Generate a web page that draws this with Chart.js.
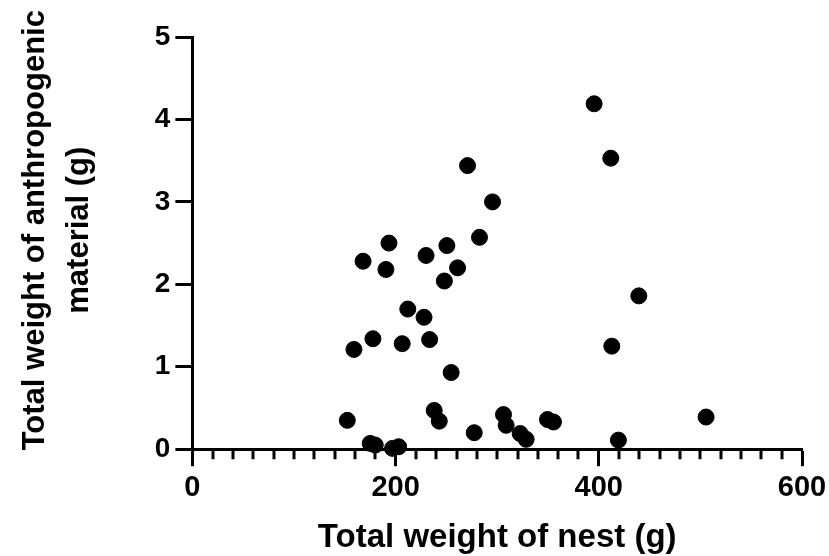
<!DOCTYPE html>
<html lang="en">
<head>
  <meta charset="UTF-8">
  <title>Anthropogenic material vs nest weight</title>
  <script src="https://cdn.jsdelivr.net/npm/chart.js"></script>
  <style>
    html, body { margin: 0; padding: 0; background: #fff; }
    #wrap { width: 829px; height: 556px; }
  </style>
</head>
<body>
  <div id="wrap"><canvas id="nestChart"></canvas></div>

  <script>
    // nest weight (g) and anthropogenic material weight (g)
    const nestWeight = [
      152.5, 159, 168, 177.7, 175, 180, 190.5, 193.5, 197, 203,
      206.5, 212, 228, 230, 233.5, 238, 243, 248, 250.5, 254.7,
      261, 270.8, 277.4, 282.6, 295.4, 306.2, 308.8, 322.6, 328.5, 349.5,
      355.4, 395.4, 411.8, 412.8, 419.3, 439.4, 505.6
    ];
    const anthroWeight = [
      0.35, 1.21, 2.28, 1.34, 0.07, 0.05, 2.18, 2.50, 0.01, 0.03,
      1.28, 1.70, 1.60, 2.35, 1.33, 0.47, 0.34, 2.04, 2.47, 0.93,
      2.20, 3.44, 0.20, 2.57, 3.00, 0.42, 0.29, 0.19, 0.12, 0.36,
      0.33, 4.19, 3.53, 1.25, 0.11, 1.86, 0.39
    ];
    const xTicks = [0, 200, 400, 600];
    const yTicks = [0, 1, 2, 3, 4, 5];
    const xMinorStep = 20;

    const points = nestWeight.map((x, i) => ({ x: x, y: anthroWeight[i] }));
    const font = 'Liberation Sans, Arial, Helvetica, sans-serif';
    // leading no-break spaces nudge the rotated title up a little, like the original
    const lift = '\u00A0\u00A0\u00A0';

    // small ticks along the x axis every 20 g
    const minorTicks = {
      id: 'minorTicks',
      afterDraw(chart) {
        const x = chart.scales.x;
        const c = chart.ctx;
        c.save();
        c.strokeStyle = '#000';
        c.lineWidth = 3;
        c.beginPath();
        for (let v = xTicks[0]; v <= xTicks[xTicks.length - 1]; v += xMinorStep) {
          if (xTicks.includes(v)) continue;
          const px = Math.round(x.getPixelForValue(v));
          c.moveTo(px, x.top);
          c.lineTo(px, x.top + 10);
        }
        c.stroke();
        c.restore();
      }
    };

    new Chart(document.getElementById('nestChart'), {
      type: 'scatter',
      data: {
        datasets: [{
          data: points,
          backgroundColor: '#000',
          borderColor: '#000',
          pointRadius: 8,
          pointHoverRadius: 8,
          clip: false
        }]
      },
      options: {
        responsive: true,
        maintainAspectRatio: false,
        animation: false,
        layout: { padding: { top: 37, right: 19, left: 4, bottom: 2 } },
        plugins: { legend: { display: false }, tooltip: { enabled: false } },
        scales: {
          x: {
            type: 'linear',
            min: 0,
            max: 600,
            afterBuildTicks: (s) => { s.ticks = xTicks.map(v => ({ value: v })); },
            afterFit: (s) => { s.paddingRight = 27; },
            ticks: {
              color: '#000',
              padding: 4,
              font: { family: font, size: 29, weight: 'bold' }
            },
            grid: { drawOnChartArea: false, tickLength: 17, tickWidth: 3, tickColor: '#000' },
            border: { display: true, width: 3, color: '#000' },
            title: {
              display: true,
              text: 'Total weight of nest (g)',
              color: '#000',
              padding: { top: 12, bottom: 0 },
              font: { family: font, size: 33, weight: 'bold', lineHeight: 1.0 }
            }
          },
          y: {
            type: 'linear',
            min: 0,
            max: 5,
            afterBuildTicks: (s) => { s.ticks = yTicks.map(v => ({ value: v })); },
            ticks: {
              color: '#000',
              padding: 5,
              font: { family: font, size: 28, weight: 'bold' }
            },
            grid: { drawOnChartArea: false, tickLength: 17, tickWidth: 3, tickColor: '#000' },
            border: { display: true, width: 3, color: '#000' },
            title: {
              display: true,
              text: [lift + 'Total weight of anthropogenic', lift + 'material (g)'],
              color: '#000',
              padding: { top: 10, bottom: 49 },
              font: { family: font, size: 31, weight: 'bold', lineHeight: 1.4 }
            }
          }
        }
      },
      plugins: [minorTicks]
    });
  </script>
</body>
</html>
